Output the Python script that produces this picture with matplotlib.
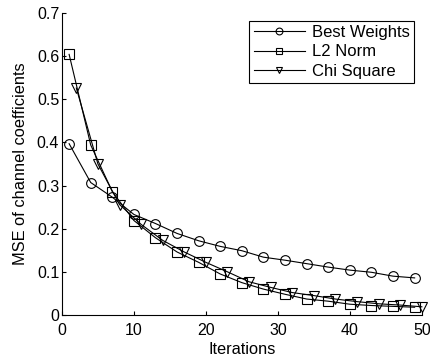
import matplotlib
matplotlib.use("Agg")
import matplotlib.pyplot as plt

plt.rcParams['font.family'] = ['Liberation Sans', 'DejaVu Sans']

# MSE per iteration for each weighting scheme (markers every 3 iterations)
best_x = [1, 4, 7, 10, 13, 16, 19, 22, 25, 28, 31, 34, 37, 40, 43, 46, 49]
best_mse = [0.397, 0.307, 0.273, 0.233, 0.212, 0.189, 0.172, 0.159, 0.149,
            0.134, 0.127, 0.119, 0.111, 0.104, 0.099, 0.090, 0.086]

l2_x = [1, 4, 7, 10, 13, 16, 19, 22, 25, 28, 31, 34, 37, 40, 43, 46, 49]
l2_mse = [0.604, 0.394, 0.286, 0.219, 0.179, 0.146, 0.122, 0.095, 0.075,
          0.060, 0.048, 0.037, 0.032, 0.025, 0.022, 0.020, 0.018]

chi_x = [2, 5, 8, 11, 14, 17, 20, 23, 26, 29, 32, 35, 38, 41, 44, 47, 50]
chi_mse = [0.526, 0.350, 0.256, 0.210, 0.173, 0.146, 0.122, 0.100, 0.077,
           0.064, 0.052, 0.045, 0.037, 0.031, 0.026, 0.023, 0.019]

fig = plt.figure(figsize=(4.3, 3.6), dpi=100)
ax = fig.add_axes([0.144, 0.125, 0.837, 0.839])

style = dict(color='black', lw=0.8, markersize=7, markerfacecolor='none',
             markeredgewidth=0.8, clip_on=False)
ax.plot(best_x, best_mse, marker='o', label='Best Weights', **style)
ax.plot(l2_x, l2_mse, marker='s', label='L2 Norm', **style)
ax.plot(chi_x, chi_mse, marker='v', label='Chi Square', **style)

ax.set_xlim(0, 50)
ax.set_ylim(0, 0.7)
ax.set_xticks([0, 10, 20, 30, 40, 50])
ax.set_yticks([0, 0.1, 0.2, 0.3, 0.4, 0.5, 0.6, 0.7])
ax.set_yticklabels(['0', '0.1', '0.2', '0.3', '0.4', '0.5', '0.6', '0.7'])
ax.tick_params(direction='in', length=3, width=0.8, labelsize=11.5)
ax.tick_params(axis='x', pad=6)
ax.tick_params(axis='y', pad=2)
ax.spines['top'].set_visible(False)
ax.spines['right'].set_visible(False)
for s in ('left', 'bottom'):
    ax.spines[s].set_linewidth(0.8)

ax.set_xlabel('Iterations', fontsize=11.8, labelpad=3)
ax.set_ylabel('MSE of channel coefficients', fontsize=11.8, labelpad=6)

leg = ax.legend(loc='upper right', bbox_to_anchor=(0.978, 0.973), fontsize=12,
                fancybox=False, edgecolor='black', framealpha=1,
                handlelength=3.1, borderpad=0.25, labelspacing=0.25,
                handletextpad=0.4, borderaxespad=0, markerscale=0.7)
leg.get_frame().set_linewidth(0.8)

fig.savefig('out.png', dpi=100)
